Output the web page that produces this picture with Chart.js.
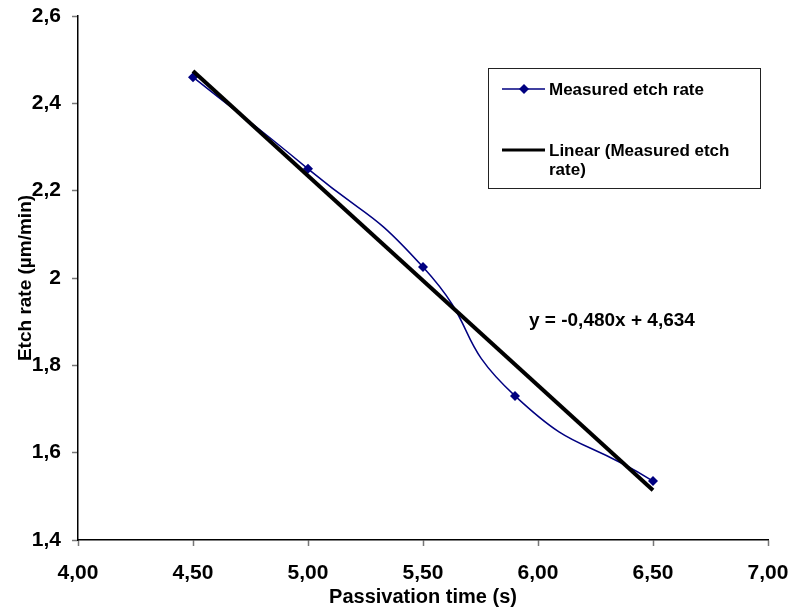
<!DOCTYPE html>
<html>
<head>
<meta charset="utf-8">
<script src="https://cdn.jsdelivr.net/npm/chart.js@4.4.1/dist/chart.umd.min.js"></script>
<style>
  body { margin: 0; background: #fff; }
</style>
</head>
<body>
<canvas id="etchChart" width="790" height="616"></canvas>
<script>
// measured points
var passivationTime = [4.5, 5.0, 5.5, 5.9, 6.5];
var etchRate = [2.46, 2.25, 2.025, 1.73, 1.535];

// linear trend line (y = -0,480x + 4,634), drawn over the measured range
var trendTime = [4.5, 6.5];
var trendRate = [2.474, 1.514];

var xTickLabels = ['4,00', '4,50', '5,00', '5,50', '6,00', '6,50', '7,00'];
var yTickLabels = ['1,4', '1,6', '1,8', '2', '2,2', '2,4', '2,6'];

var equationText = 'y = -0,480x + 4,634';
var seriesName = 'Measured etch rate';
var trendNameLines = ['Linear (Measured etch', 'rate)'];

var FONT = '"Liberation Sans", Arial, sans-serif';

function toPoints(xs, ys) {
    var pts = [];
    for (var i = 0; i < xs.length; i++) {
        pts.push({x: xs[i], y: ys[i]});
    }
    return pts;
}

// legend box + equation, drawn like the excel ones
var overlay = {
    id: 'overlay',
    afterDraw: function (chart) {
        var ctx = chart.ctx;
        ctx.save();

        // legend frame
        ctx.strokeStyle = '#222';
        ctx.lineWidth = 1;
        ctx.strokeRect(488.5, 68.5, 272, 120);

        ctx.font = 'bold 17px ' + FONT;
        ctx.fillStyle = '#000';
        ctx.textBaseline = 'middle';
        ctx.textAlign = 'left';

        // row 1: series sample
        ctx.strokeStyle = '#000080';
        ctx.lineWidth = 1.5;
        ctx.beginPath();
        ctx.moveTo(502, 89);
        ctx.lineTo(545, 89);
        ctx.stroke();
        ctx.fillStyle = '#000080';
        ctx.beginPath();
        ctx.moveTo(524, 84);
        ctx.lineTo(529, 89);
        ctx.lineTo(524, 94);
        ctx.lineTo(519, 89);
        ctx.closePath();
        ctx.fill();
        ctx.fillStyle = '#000';
        ctx.fillText(seriesName, 549, 90);

        // row 2: trend sample
        ctx.strokeStyle = '#000';
        ctx.lineWidth = 3;
        ctx.beginPath();
        ctx.moveTo(502, 150);
        ctx.lineTo(545, 150);
        ctx.stroke();
        ctx.fillText(trendNameLines[0], 549, 151);
        ctx.fillText(trendNameLines[1], 549, 170);

        // trend equation
        ctx.font = 'bold 19px ' + FONT;
        ctx.fillText(equationText, 529, 321);

        ctx.restore();
    }
};

var ctx = document.getElementById('etchChart');
var etchChart = new Chart(ctx, {
    type: 'line',
    data: {
        datasets: [
            {
                label: seriesName,
                data: toPoints(passivationTime, etchRate),
                borderColor: '#000080',
                backgroundColor: '#000080',
                borderWidth: 1.5,
                tension: 0.55,
                pointStyle: 'rectRot',
                pointRadius: 5,
                pointBorderWidth: 0,
                fill: false,
                order: 2
            },
            {
                label: trendNameLines.join(' '),
                data: toPoints(trendTime, trendRate),
                borderColor: '#000',
                backgroundColor: '#000',
                borderWidth: 4,
                tension: 0,
                pointRadius: 0,
                fill: false,
                order: 1
            }
        ]
    },
    options: {
        responsive: false,
        animation: false,
        layout: {
            padding: {left: 0, top: 0, right: 0, bottom: 7}
        },
        plugins: {
            legend: {display: false},
            tooltip: {enabled: false}
        },
        scales: {
            x: {
                type: 'linear',
                min: 4,
                max: 7,
                ticks: {
                    stepSize: 0.5,
                    padding: 15,
                    color: '#000',
                    font: {family: FONT, size: 21, weight: 'bold'},
                    maxRotation: 0,
                    callback: function (value, index) {
                        return xTickLabels[index];
                    }
                },
                grid: {
                    drawOnChartArea: false,
                    drawTicks: true,
                    tickLength: 6,
                    tickColor: '#777',
                    tickWidth: 1.5
                },
                border: {color: '#000', width: 1.5},
                title: {
                    display: true,
                    text: 'Passivation time (s)',
                    color: '#000',
                    font: {family: FONT, size: 20, weight: 'bold'},
                    padding: {top: 0, bottom: 0}
                },
                afterFit: function (scale) {
                    scale.height = 69;
                    scale.paddingLeft = 0;
                    scale.paddingRight = 22;
                }
            },
            y: {
                type: 'linear',
                min: 1.4,
                max: 2.6,
                ticks: {
                    stepSize: 0.2,
                    padding: 11,
                    color: '#000',
                    font: {family: FONT, size: 21, weight: 'bold'},
                    callback: function (value, index) {
                        return yTickLabels[index];
                    }
                },
                grid: {
                    drawOnChartArea: false,
                    drawTicks: true,
                    tickLength: 6,
                    tickColor: '#777',
                    tickWidth: 1.5
                },
                border: {color: '#000', width: 1.5},
                title: {
                    display: true,
                    text: 'Etch rate (µm/min)',
                    color: '#000',
                    font: {family: FONT, size: 19, weight: 'bold'},
                    padding: {top: 14, bottom: 0}
                },
                afterFit: function (scale) {
                    scale.width = 78;
                    scale.paddingTop = 16;
                    scale.paddingBottom = 0;
                }
            }
        }
    },
    plugins: [overlay]
});
</script>
</body>
</html>
